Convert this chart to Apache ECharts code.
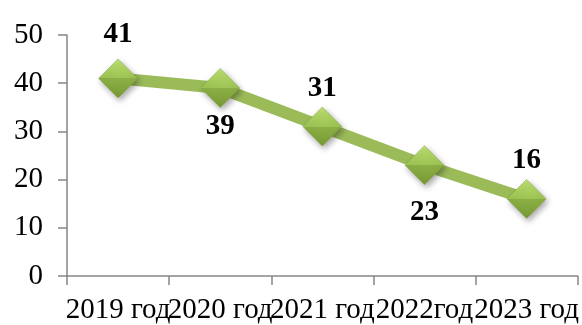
<!DOCTYPE html>
<html>
<head>
<meta charset="utf-8">
<script src="https://cdn.jsdelivr.net/npm/echarts@6/dist/echarts.min.js"></script>
<style>
  html, body { margin: 0; padding: 0; background: #fff; }
  #chart { width: 582px; height: 325px; }
</style>
</head>
<body>
<div id="chart"></div>
<script>
// Years along the horizontal axis
const years = ['2019 год', '2020 год', '2021 год', '2022год', '2023 год'];
// Values for each year
const values = [41, 39, 31, 23, 16];
// Where each value label sits relative to its marker
const labelSides = ['top', 'bottom', 'top', 'bottom', 'top'];
// Gap between marker and its value label
const labelGaps = [10, 4, 4, 13, 4];
// Vertical axis range
const yMin = 0, yMax = 50, yStep = 10;

const font = '"Times New Roman", "Liberation Serif", serif';
const axisGrey = '#868686';

// Diamond fill: lighter upper facet, darker lower facet
const diamondFill = new echarts.graphic.LinearGradient(0, 0, 0, 1, [
  { offset: 0, color: '#bde072' },
  { offset: 0.5, color: '#9cc353' },
  { offset: 0.5, color: '#8cb045' },
  { offset: 1, color: '#779935' }
]);

const chart = echarts.init(document.getElementById('chart'), null, { renderer: 'canvas' });
chart.setOption({
  animation: false,
  grid: { left: 67, right: 4, top: 35, bottom: 48 },
  xAxis: {
    type: 'category',
    data: years,
    boundaryGap: true,
    axisLine: { lineStyle: { color: axisGrey, width: 1.5 } },
    axisTick: { show: true, length: 9, lineStyle: { color: axisGrey, width: 1.5 } },
    axisLabel: { color: '#000', fontFamily: font, fontSize: 29, margin: 20, interval: 0 }
  },
  yAxis: {
    type: 'value',
    min: yMin, max: yMax, interval: yStep,
    splitLine: { show: false },
    axisLine: { show: true, lineStyle: { color: axisGrey, width: 1.5 } },
    axisTick: { show: true, length: 9, lineStyle: { color: axisGrey, width: 1.5 } },
    axisLabel: { color: '#000', fontFamily: font, fontSize: 29, margin: 24 }
  },
  series: [{
    type: 'line',
    data: values.map((v, i) => ({
      value: v,
      label: { position: labelSides[i], distance: labelGaps[i] }
    })),
    lineStyle: { color: '#9bbb59', width: 12 },
    symbol: 'diamond',
    symbolSize: 39,
    itemStyle: {
      color: diamondFill,
      borderColor: '#86a743',
      borderWidth: 0.5,
      shadowColor: 'rgba(0,0,0,0.35)',
      shadowBlur: 6,
      shadowOffsetX: 2,
      shadowOffsetY: 3
    },
    label: {
      show: true,
      color: '#000',
      fontFamily: font,
      fontWeight: 'bold',
      fontSize: 29
    }
  }]
});
</script>
</body>
</html>
